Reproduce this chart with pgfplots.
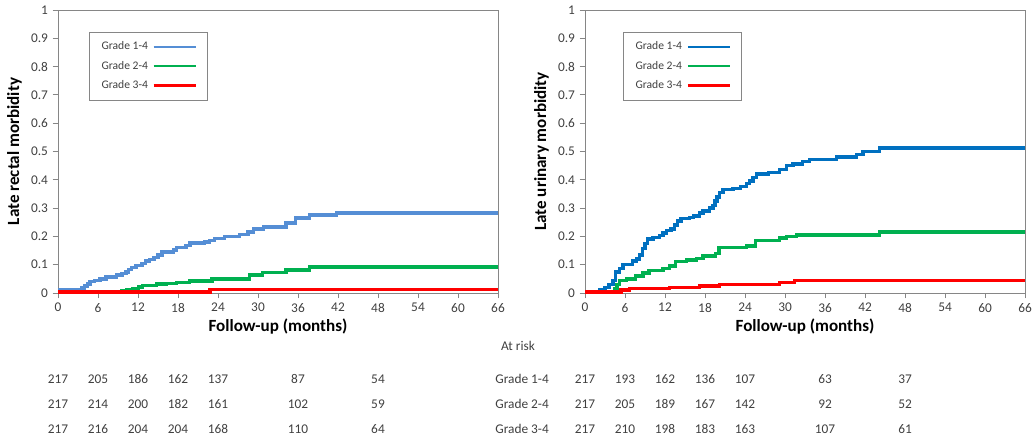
\documentclass[border=0pt]{standalone}
\usepackage{pgfplots}
\pgfplotsset{compat=1.18}
\usepackage{fontspec}
\setmainfont{Carlito}
\definecolor{axgray}{HTML}{868686}
\definecolor{txt}{HTML}{404040}
\definecolor{blueL}{HTML}{558ED5}
\definecolor{blueR}{HTML}{0070C0}
\definecolor{grn}{HTML}{00B050}
\definecolor{rd}{HTML}{FF0000}
\pgfplotsset{km/.style={
  scale only axis, width=330pt, height=212.25pt,
  xmin=0, xmax=66, ymin=0, ymax=1,
  xtick distance=6, ytick distance=0.1,
  /pgf/number format/assume math mode=true,
  axis line style={axgray}, tick style={axgray, semithick},
  tick align=outside, tick pos=left, major tick length=4pt,
  tick label style={font=\fontsize{10}{12}\selectfont, text=txt},
  label style={font=\fontsize{12.8}{15}\selectfont\bfseries, text=black},
  xlabel={Follow-up (months)},
  xlabel style={yshift=2pt},
  legend style={draw=axgray, fill=white, font=\fontsize{8.7}{10}\selectfont, text=txt,
     inner xsep=7pt, inner ysep=5pt, row sep=3pt, anchor=north west,
     /tikz/every even column/.append style={column sep=9pt},
     /tikz/every odd column/.append style={column sep=1.5pt}},
  legend plot pos=right, legend cell align=left,
  legend image code/.code={\draw[##1, line width=1.6pt] (0pt,0pt) -- (32pt,0pt);},
  clip=false,
  every axis plot/.append style={line width=2.6pt, const plot mark left},
}}
\begin{document}
\begin{tikzpicture}
\begin{axis}[km, ylabel={Late rectal morbidity}, legend style={at={(0.071,0.922)}}]
\addplot[blueL] coordinates {(0,0.01)(3.2,0.012)(3.6,0.018)(4.0,0.025)(4.4,0.032)(4.8,0.04)(5.5,0.045)(6.3,0.05)(7.2,0.057)(8.8,0.063)(9.6,0.068)(10.2,0.075)(10.6,0.083)(11.0,0.09)(11.7,0.098)(12.6,0.104)(13.1,0.113)(13.7,0.119)(14.4,0.125)(15.0,0.135)(15.6,0.145)(17.3,0.152)(17.8,0.16)(19.2,0.168)(19.8,0.176)(22.0,0.18)(22.7,0.186)(23.5,0.193)(25.0,0.2)(27.2,0.207)(28.5,0.215)(29.3,0.226)(30.8,0.233)(34.2,0.248)(35.6,0.265)(37.7,0.275)(41.8,0.283)(66,0.283)};
\addlegendentry{Grade 1-4}
\addplot[grn] coordinates {(0,0.002)(6.5,0.004)(9.5,0.008)(10.3,0.012)(11.2,0.016)(12.1,0.022)(12.7,0.027)(14.8,0.031)(16.3,0.034)(17.8,0.037)(19.7,0.042)(23.1,0.05)(28.7,0.063)(30.7,0.073)(34.2,0.081)(37.7,0.092)(66,0.092)};
\addlegendentry{Grade 2-4}
\addplot[rd] coordinates {(0,0.004)(22.8,0.012)(66,0.012)};
\addlegendentry{Grade 3-4}
\end{axis}
\begin{axis}[km, at={(395.25pt,0pt)}, ylabel={Late urinary morbidity}, legend style={at={(0.087,0.922)}}]
\addplot[blueR] coordinates {(0,0.003)(2.2,0.01)(3.0,0.02)(3.6,0.03)(4.2,0.045)(4.6,0.075)(5.2,0.087)(5.7,0.1)(7.1,0.113)(7.7,0.12)(8.2,0.135)(8.6,0.158)(9.0,0.175)(9.4,0.19)(10.2,0.196)(11.2,0.204)(11.7,0.212)(12.2,0.22)(12.9,0.226)(13.4,0.24)(13.9,0.255)(14.4,0.263)(15.7,0.267)(16.3,0.272)(17.2,0.282)(17.7,0.29)(18.7,0.3)(19.2,0.31)(19.5,0.325)(19.8,0.34)(20.2,0.355)(20.7,0.366)(22.2,0.37)(23.3,0.376)(24.2,0.386)(24.7,0.395)(25.2,0.408)(25.7,0.42)(27.5,0.426)(29.2,0.436)(30.2,0.45)(31.2,0.456)(32.6,0.465)(33.7,0.472)(37.7,0.48)(40.7,0.49)(41.7,0.5)(44.2,0.512)(66,0.512)};
\addlegendentry{Grade 1-4}
\addplot[grn] coordinates {(0,0.003)(4.4,0.015)(4.8,0.03)(5.2,0.044)(6.2,0.05)(7.6,0.06)(8.7,0.07)(9.6,0.08)(11.7,0.086)(12.7,0.096)(13.6,0.111)(15.2,0.116)(16.7,0.122)(17.7,0.13)(19.6,0.14)(20.1,0.16)(24.2,0.166)(25.6,0.185)(29.2,0.195)(30.2,0.2)(31.7,0.205)(44.2,0.215)(66,0.215)};
\addlegendentry{Grade 2-4}
\addplot[rd] coordinates {(0,0.003)(5.4,0.01)(6.7,0.015)(12.7,0.019)(17.2,0.025)(20.2,0.03)(29.2,0.037)(31.4,0.045)(66,0.045)};
\addlegendentry{Grade 3-4}
\end{axis}
% at-risk table
\begin{scope}[every node/.style={font=\fontsize{10}{12}\selectfont, text=txt}]
\node at (345pt,-39.5pt) {At risk};
\foreach \m/\a/\b/\c in {0/217/217/217, 6/205/214/216, 12/186/200/204, 18/162/182/204, 24/137/161/168, 36/87/102/110, 48/54/59/64}{
  \node at (\m*5pt,-64.5pt) {\a};
  \node at (\m*5pt,-83.25pt) {\b};
  \node at (\m*5pt,-102pt) {\c};
}
\foreach \m/\a/\b/\c in {0/217/217/217, 6/193/205/210, 12/162/189/198, 18/136/167/183, 24/107/142/163, 36/63/92/107, 48/37/52/61}{
  \node at (395.25pt+\m*5pt,-64.5pt) {\a};
  \node at (395.25pt+\m*5pt,-83.25pt) {\b};
  \node at (395.25pt+\m*5pt,-102pt) {\c};
}
\node[anchor=west] at (324.5pt,-64.5pt) {Grade 1-4};
\node[anchor=west] at (324.5pt,-83.25pt) {Grade 2-4};
\node[anchor=west] at (324.5pt,-102pt) {Grade 3-4};
\end{scope}
\pgfresetboundingbox
\useasboundingbox (-43.5pt,-111.75pt) rectangle (732.75pt,219.75pt);
\end{tikzpicture}
\end{document}
